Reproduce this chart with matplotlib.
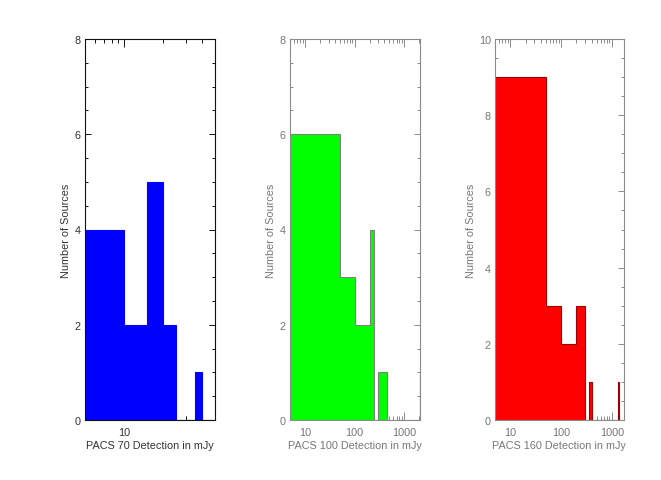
import matplotlib
matplotlib.use("Agg")
import matplotlib.pyplot as plt
from matplotlib.ticker import LogLocator, FixedLocator, MultipleLocator, NullFormatter, FixedFormatter

plt.rcParams["font.family"] = ["Liberation Sans", "DejaVu Sans"]

# Histogram bin edges (mJy) and source counts per band
p70_edges = [5, 10, 15, 20, 25, 30, 35, 40, 45, 50]
p70_counts = [4, 2, 5, 2, 0, 0, 1, 0, 0]

p100_edges = [1, 50, 100, 150, 200, 250, 300, 350, 400, 450, 2050, 2100]
p100_counts = [6, 3, 2, 2, 4, 0, 1, 1, 1, 0, 1]

p160_edges = [1, 50, 100, 150, 200, 250, 300, 350, 400, 1350, 1400]
p160_counts = [9, 3, 2, 2, 3, 3, 0, 1, 0, 1]

x_labels = ["PACS 70 Detection in mJy", "PACS 100 Detection in mJy", "PACS 160 Detection in mJy"]
y_label = "Number of Sources"
x_major = [[10], [10, 100, 1000], [10, 100, 1000]]
x_major_text = [["10"], ["10", "100", "1000"], ["10", "100", "1000"]]

panels = [
    dict(edges=p70_edges, counts=p70_counts, xlim=(5, 50), ylim=(0, 8),
         face="#0000ff", edge="#0000ff", axis="#111111", text="#333333",
         pos=[85, 215], ypad=3),
    dict(edges=p100_edges, counts=p100_counts, xlim=(5, 2080), ylim=(0, 8),
         face="#00ff00", edge="#808080", axis="#8a8a8a", text="#777777",
         pos=[290, 420], ypad=3),
    dict(edges=p160_edges, counts=p160_counts, xlim=(5, 1700), ylim=(0, 10),
         face="#ff0000", edge="#a00000", axis="#8a8a8a", text="#777777",
         pos=[495, 623.5], ypad=2),
]

W, H = 661, 481
fig = plt.figure(figsize=(W / 100, H / 100), dpi=100)
fig.patch.set_facecolor("white")

top_px, bot_px = 40, 421
for i, p in enumerate(panels):
    l, r = p["pos"]
    ax = fig.add_axes([l / W, (H - bot_px) / H, (r - l) / W, (bot_px - top_px) / H])
    ax.set_axisbelow(True)
    ax.stairs(p["counts"], p["edges"], fill=True, facecolor=p["face"],
              edgecolor=p["edge"], linewidth=0.8, baseline=0)
    ax.set_xscale("log")
    ax.set_xlim(*p["xlim"])
    ax.set_ylim(*p["ylim"])

    ax.xaxis.set_major_locator(FixedLocator(x_major[i]))
    ax.xaxis.set_major_formatter(FixedFormatter(x_major_text[i]))
    ax.xaxis.set_minor_locator(LogLocator(base=10, subs=range(2, 10), numticks=20))
    ax.xaxis.set_minor_formatter(NullFormatter())
    ax.yaxis.set_major_locator(MultipleLocator(2))
    ax.yaxis.set_minor_locator(MultipleLocator(0.5))

    ax.tick_params(which="both", direction="in", top=True, right=True,
                   color=p["axis"], labelcolor=p["text"], labelsize=7.8, width=0.7)
    ax.tick_params(axis="x", which="major", length=6, pad=5)
    ax.tick_params(axis="x", which="minor", length=3)
    ax.tick_params(axis="y", which="major", length=4, pad=3)
    ax.tick_params(axis="y", which="minor", length=2.5)
    for s in ax.spines.values():
        s.set_color(p["axis"])
        s.set_linewidth(0.8)

    ax.set_xlabel(x_labels[i], fontsize=7.8, color=p["text"], labelpad=2)
    ax.set_ylabel(y_label, fontsize=7.8, color=p["text"], labelpad=p["ypad"])

fig.savefig("out.png", dpi=100, facecolor="white")
